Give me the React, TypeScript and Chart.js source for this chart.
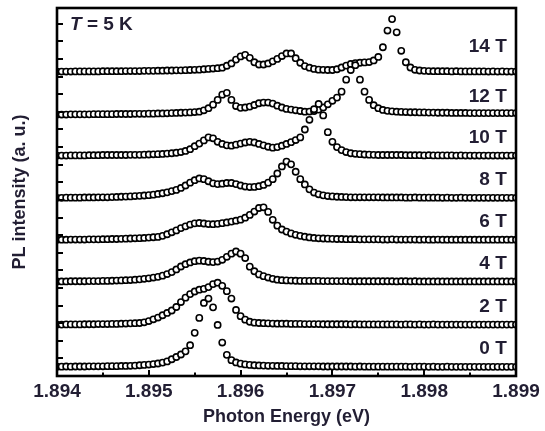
import React, { useEffect, useRef } from "react";
import { Chart, registerables } from "chart.js";

Chart.register(...registerables);

// Energy grid of the spectra (eV)
const E_START = 1.894;
const E_STEP = 0.00005;

const fieldLabels = ["0 T", "2 T", "4 T", "6 T", "8 T", "10 T", "12 T", "14 T"];
// vertical offsets of each stacked spectrum (a. u.)
const traceOffsets = [0.5, 2.9, 5.35, 7.72, 10.1, 12.5, 14.83, 17.27];

const pl0T = [
  0.03, 0.03, 0.04, 0.03, 0.04, 0.04, 0.04, 0.05, 0.05, 0.05,
  0.05, 0.06, 0.06, 0.06, 0.07, 0.07, 0.08, 0.09, 0.11, 0.13,
  0.15, 0.18, 0.21, 0.26, 0.33, 0.45, 0.58, 0.72, 0.9, 1.25,
  1.95, 2.8, 3.65, 3.9, 3.4, 2.4, 1.4, 0.7, 0.4, 0.27,
  0.2, 0.16, 0.13, 0.11, 0.1, 0.09, 0.08, 0.08, 0.07, 0.07,
  0.06, 0.06, 0.06, 0.05, 0.05, 0.05, 0.05, 0.05, 0.04, 0.04,
  0.04, 0.04, 0.04, 0.04, 0.04, 0.03, 0.04, 0.03, 0.03, 0.03,
  0.03, 0.03, 0.03, 0.03, 0.03, 0.03, 0.03, 0.02, 0.03, 0.03,
  0.03, 0.02, 0.03, 0.02, 0.02, 0.03, 0.02, 0.02, 0.02, 0.02,
  0.02, 0.02, 0.02, 0.02, 0.02, 0.02, 0.02, 0.02, 0.02, 0.02,
  0.02,
];
const pl2T = [
  0.02, 0.02, 0.03, 0.03, 0.03, 0.03, 0.04, 0.04, 0.04, 0.05,
  0.05, 0.05, 0.06, 0.06, 0.07, 0.08, 0.09, 0.1, 0.11, 0.15,
  0.22, 0.32, 0.42, 0.55, 0.68, 0.82, 1.02, 1.3, 1.55, 1.75,
  1.9, 2.0, 2.05, 2.15, 2.32, 2.4, 2.22, 1.92, 1.5, 0.85,
  0.5, 0.3, 0.18, 0.13, 0.11, 0.1, 0.09, 0.08, 0.07, 0.07,
  0.07, 0.06, 0.06, 0.06, 0.05, 0.05, 0.05, 0.05, 0.04, 0.04,
  0.04, 0.04, 0.04, 0.04, 0.03, 0.04, 0.03, 0.03, 0.03, 0.03,
  0.03, 0.03, 0.03, 0.03, 0.03, 0.02, 0.03, 0.03, 0.02, 0.03,
  0.02, 0.02, 0.03, 0.02, 0.02, 0.02, 0.02, 0.02, 0.02, 0.02,
  0.02, 0.02, 0.02, 0.02, 0.02, 0.02, 0.02, 0.02, 0.02, 0.02,
  0.02,
];
const pl4T = [
  0.02, 0.02, 0.02, 0.03, 0.03, 0.03, 0.03, 0.04, 0.04, 0.04,
  0.05, 0.05, 0.06, 0.07, 0.08, 0.09, 0.1, 0.12, 0.14, 0.17,
  0.2, 0.24, 0.28, 0.35, 0.44, 0.55, 0.7, 0.87, 1.0, 1.1,
  1.17, 1.2, 1.18, 1.14, 1.12, 1.15, 1.25, 1.42, 1.6, 1.72,
  1.6, 1.35, 0.86, 0.6, 0.42, 0.32, 0.24, 0.17, 0.12, 0.09,
  0.08, 0.07, 0.06, 0.05, 0.05, 0.05, 0.05, 0.05, 0.04, 0.04,
  0.04, 0.04, 0.04, 0.04, 0.03, 0.03, 0.03, 0.03, 0.03, 0.03,
  0.03, 0.03, 0.03, 0.03, 0.02, 0.03, 0.03, 0.02, 0.03, 0.02,
  0.02, 0.02, 0.02, 0.02, 0.02, 0.02, 0.02, 0.02, 0.02, 0.02,
  0.02, 0.02, 0.02, 0.02, 0.02, 0.02, 0.02, 0.02, 0.02, 0.02,
  0.02,
];
const pl6T = [
  0.02, 0.02, 0.02, 0.03, 0.03, 0.03, 0.03, 0.04, 0.04, 0.04,
  0.05, 0.05, 0.06, 0.06, 0.07, 0.08, 0.09, 0.1, 0.11, 0.12,
  0.14, 0.16, 0.18, 0.24, 0.33, 0.44, 0.55, 0.68, 0.78, 0.88,
  0.95, 0.97, 0.94, 0.91, 0.9, 0.92, 0.96, 1.0, 1.05, 1.1,
  1.16, 1.27, 1.43, 1.62, 1.82, 1.86, 1.6, 1.15, 0.82, 0.6,
  0.48, 0.38, 0.3, 0.24, 0.19, 0.15, 0.12, 0.1, 0.09, 0.08,
  0.07, 0.06, 0.06, 0.05, 0.05, 0.05, 0.04, 0.04, 0.04, 0.04,
  0.04, 0.03, 0.03, 0.04, 0.03, 0.03, 0.03, 0.03, 0.03, 0.02,
  0.03, 0.02, 0.02, 0.03, 0.02, 0.02, 0.02, 0.02, 0.02, 0.02,
  0.02, 0.02, 0.02, 0.02, 0.02, 0.02, 0.02, 0.02, 0.02, 0.02,
  0.02,
];
const pl8T = [
  0.02, 0.02, 0.03, 0.03, 0.03, 0.03, 0.04, 0.04, 0.04, 0.05,
  0.05, 0.05, 0.06, 0.07, 0.08, 0.09, 0.1, 0.12, 0.13, 0.15,
  0.17, 0.2, 0.24, 0.28, 0.33, 0.4, 0.47, 0.58, 0.72, 0.88,
  1.02, 1.12, 1.08, 0.96, 0.84, 0.8, 0.82, 0.86, 0.86, 0.8,
  0.72, 0.66, 0.63, 0.64, 0.68, 0.75, 0.88, 1.08, 1.4, 1.8,
  2.08, 1.92, 1.5, 1.08, 0.78, 0.5, 0.32, 0.22, 0.16, 0.12,
  0.1, 0.08, 0.07, 0.06, 0.05, 0.05, 0.05, 0.05, 0.05, 0.05,
  0.05, 0.04, 0.04, 0.04, 0.04, 0.04, 0.03, 0.03, 0.04, 0.03,
  0.03, 0.03, 0.03, 0.03, 0.02, 0.03, 0.02, 0.02, 0.03, 0.02,
  0.02, 0.02, 0.02, 0.02, 0.02, 0.02, 0.02, 0.02, 0.02, 0.02,
  0.02,
];
const pl10T = [
  0.02, 0.02, 0.02, 0.03, 0.03, 0.03, 0.03, 0.04, 0.04, 0.04,
  0.05, 0.05, 0.05, 0.05, 0.05, 0.05, 0.06, 0.06, 0.06, 0.07,
  0.08, 0.09, 0.1, 0.11, 0.13, 0.15, 0.18, 0.22, 0.28, 0.38,
  0.55, 0.7, 0.88, 1.05, 1.0, 0.8, 0.68, 0.6, 0.58, 0.64,
  0.7, 0.76, 0.8, 0.76, 0.68, 0.6, 0.52, 0.47, 0.5, 0.58,
  0.68, 0.78, 0.9, 1.05, 1.5, 2.05, 2.65, 2.95, 2.3, 1.35,
  0.8, 0.5, 0.33, 0.22, 0.15, 0.12, 0.1, 0.08, 0.07, 0.06,
  0.05, 0.05, 0.05, 0.05, 0.05, 0.05, 0.04, 0.04, 0.04, 0.04,
  0.03, 0.04, 0.03, 0.03, 0.03, 0.03, 0.03, 0.02, 0.03, 0.02,
  0.02, 0.02, 0.02, 0.02, 0.02, 0.02, 0.02, 0.02, 0.02, 0.02,
  0.02,
];
const pl12T = [
  0.02, 0.02, 0.02, 0.03, 0.03, 0.03, 0.03, 0.03, 0.04, 0.04,
  0.04, 0.04, 0.04, 0.05, 0.05, 0.05, 0.05, 0.06, 0.06, 0.06,
  0.07, 0.07, 0.08, 0.08, 0.09, 0.1, 0.11, 0.12, 0.13, 0.14,
  0.16, 0.18, 0.26, 0.38, 0.58, 0.85, 1.15, 1.25, 0.85, 0.5,
  0.4, 0.42, 0.47, 0.56, 0.66, 0.7, 0.7, 0.64, 0.52, 0.42,
  0.34, 0.3, 0.26, 0.22, 0.18, 0.19, 0.22, 0.3, 0.42, 0.6,
  0.8, 0.98, 1.32, 2.0, 2.55, 2.82, 2.0, 1.32, 0.85, 0.55,
  0.38, 0.28, 0.23, 0.2, 0.18, 0.17, 0.16, 0.15, 0.15, 0.14,
  0.14, 0.13, 0.13, 0.12, 0.12, 0.12, 0.11, 0.11, 0.11, 0.11,
  0.1, 0.1, 0.1, 0.1, 0.1, 0.1, 0.1, 0.1, 0.1, 0.1,
  0.1,
];
const pl14T = [
  0.02, 0.02, 0.02, 0.02, 0.03, 0.03, 0.03, 0.03, 0.03, 0.03,
  0.04, 0.04, 0.04, 0.04, 0.04, 0.05, 0.05, 0.05, 0.05, 0.06,
  0.06, 0.06, 0.07, 0.07, 0.08, 0.08, 0.09, 0.09, 0.1, 0.11,
  0.12, 0.13, 0.15, 0.17, 0.19, 0.21, 0.24, 0.35, 0.48, 0.7,
  0.88, 0.97, 0.8, 0.55, 0.42, 0.42, 0.48, 0.6, 0.74, 0.9,
  1.05, 1.05, 0.78, 0.52, 0.33, 0.24, 0.17, 0.13, 0.12, 0.11,
  0.11, 0.15, 0.25, 0.36, 0.45, 0.5, 0.52, 0.54, 0.56, 0.65,
  0.85, 1.4, 2.35, 3.0, 2.25, 1.2, 0.55, 0.25, 0.12, 0.08,
  0.06, 0.05, 0.04, 0.04, 0.04, 0.04, 0.03, 0.04, 0.03, 0.03,
  0.03, 0.03, 0.03, 0.03, 0.02, 0.03, 0.02, 0.03, 0.02, 0.02,
  0.02,
];

const spectra = [pl0T, pl2T, pl4T, pl6T, pl8T, pl10T, pl12T, pl14T];

const xTickValues = [1.894, 1.895, 1.896, 1.897, 1.898, 1.899];
const xMinorTickValues = [1.8945, 1.8955, 1.8965, 1.8975, 1.8985];
const yTickValues = [1, 2, 3, 4, 5, 6, 7, 8, 9, 10, 11, 12, 13, 14, 15, 16, 17, 18, 19, 20];

const TEXT_COLOR = "#221e33";
const FONT = "'Liberation Sans', Arial, sans-serif";

const framePlugin = {
  id: "frameTicksLabels",
  afterDatasetsDraw(chart: any) {
    const { ctx, chartArea } = chart;
    const xs = chart.scales.x;
    const ys = chart.scales.y;
    ctx.save();
    ctx.strokeStyle = "#000";
    ctx.lineCap = "butt";
    ctx.lineWidth = 2;
    yTickValues.forEach((v) => {
      const py = Math.round(ys.getPixelForValue(v));
      ctx.beginPath();
      ctx.moveTo(chartArea.left, py);
      ctx.lineTo(chartArea.left + 6, py);
      ctx.stroke();
    });
    xTickValues.forEach((v) => {
      const px = Math.round(xs.getPixelForValue(v));
      ctx.beginPath();
      ctx.moveTo(px, chartArea.bottom);
      ctx.lineTo(px, chartArea.bottom - 6);
      ctx.stroke();
    });
    xMinorTickValues.forEach((v) => {
      const px = Math.round(xs.getPixelForValue(v));
      ctx.beginPath();
      ctx.moveTo(px, chartArea.bottom);
      ctx.lineTo(px, chartArea.bottom - 3.5);
      ctx.stroke();
    });
    ctx.lineWidth = 2.6;
    ctx.strokeRect(chartArea.left, chartArea.top, chartArea.right - chartArea.left, chartArea.bottom - chartArea.top);

    ctx.fillStyle = TEXT_COLOR;
    ctx.font = `bold 19px ${FONT}`;
    ctx.textAlign = "right";
    ctx.textBaseline = "middle";
    fieldLabels.forEach((lab, i) => {
      const lift = i === fieldLabels.length - 1 ? 1.4 : 1.03;
      ctx.fillText(lab, xs.getPixelForValue(1.8989), ys.getPixelForValue(traceOffsets[i] + lift));
    });

    ctx.textAlign = "left";
    const tx = chartArea.left + 13;
    const ty = chartArea.top + 17;
    ctx.font = `italic bold 19px ${FONT}`;
    ctx.fillText("T", tx, ty);
    const w = ctx.measureText("T").width;
    ctx.font = `bold 19px ${FONT}`;
    ctx.fillText(" = 5 K", tx + w, ty);
    ctx.restore();
  },
};

export default function App() {
  const canvasRef = useRef<HTMLCanvasElement | null>(null);

  useEffect(() => {
    if (!canvasRef.current) return;
    const datasets = spectra.map((vals, k) => ({
      label: fieldLabels[k],
      data: vals.map((v, i) => ({ x: E_START + i * E_STEP, y: v + traceOffsets[k] })),
      showLine: false,
      pointRadius: 3.1,
      pointBorderWidth: 1.6,
      pointBackgroundColor: "#ffffff",
      pointBorderColor: "#000000",
      pointStyle: "circle",
    }));

    const chart = new Chart(canvasRef.current, {
      type: "scatter",
      data: { datasets },
      options: {
        animation: false,
        responsive: false,
        events: [],
        layout: { padding: { top: 8, right: 29, left: 0, bottom: 0 } },
        plugins: { legend: { display: false }, tooltip: { enabled: false } },
        scales: {
          x: {
            type: "linear",
            min: 1.894,
            max: 1.899,
            afterBuildTicks: (scale: any) => {
              scale.ticks = xTickValues.map((v) => ({ value: v }));
            },
            afterFit: (scale: any) => {
              scale.height = 55;
            },
            grid: { display: false, drawTicks: false },
            border: { display: false },
            ticks: {
              padding: 4,
              color: TEXT_COLOR,
              font: { family: FONT, size: 19, weight: "bold" },
              maxRotation: 0,
              autoSkip: false,
              callback: (v: any) => Number(v).toFixed(3),
            },
            title: {
              display: true,
              text: "Photon Energy (eV)",
              color: TEXT_COLOR,
              font: { family: FONT, size: 18, weight: "bold" },
              padding: { top: 0, bottom: 3 },
            },
          },
          y: {
            type: "linear",
            min: 0,
            max: 20.9,
            afterFit: (scale: any) => {
              scale.width = 57;
            },
            grid: { display: false, drawTicks: false },
            border: { display: false },
            ticks: { display: false },
            title: {
              display: true,
              text: "PL intensity (a. u.)",
              color: TEXT_COLOR,
              font: { family: FONT, size: 18, weight: "bold" },
              padding: { top: 9, bottom: 0 },
            },
          },
        },
      },
      plugins: [framePlugin],
    } as any);

    return () => chart.destroy();
  }, []);

  return (
    <div style={{ position: "absolute", left: 0, top: 0, width: 545, height: 431, background: "#fff" }}>
      <canvas ref={canvasRef} width={545} height={431} style={{ display: "block" }} />
    </div>
  );
}
